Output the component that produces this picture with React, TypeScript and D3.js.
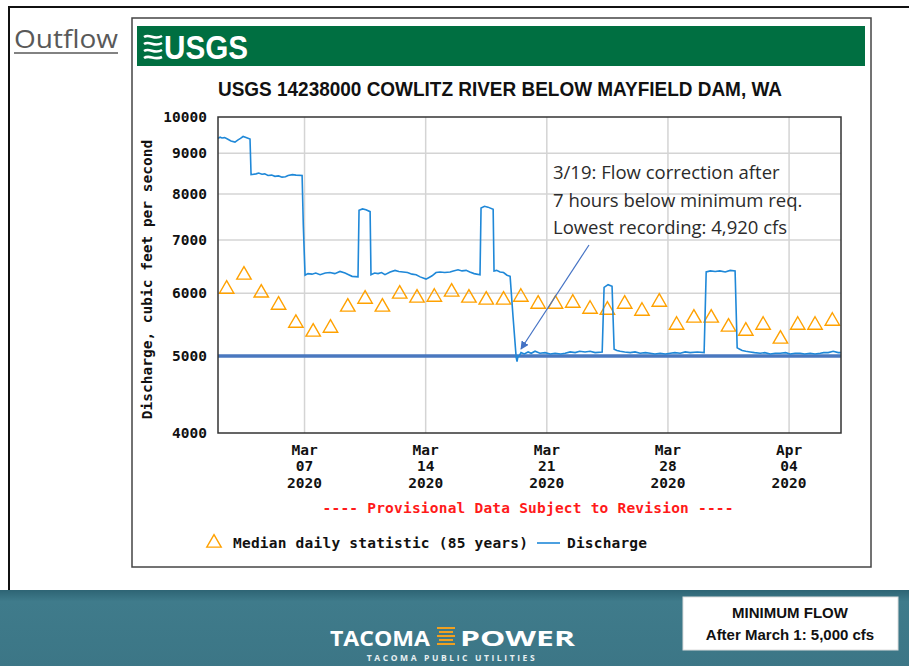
import React from "react";
import * as d3 from "d3";

// ---- data ----
const start = Date.UTC(2020, 2, 2);
const end = Date.UTC(2020, 3, 7);
const DAY = 86400000;

const yTicks = [4000, 5000, 6000, 7000, 8000, 9000, 10000];
const minimumFlow = 5000;

// median daily statistic, one per day from Mar 2
const medianValues = [
  6090, 6343, 6022, 5814, 5517, 5377, 5439, 5781, 5916, 5781, 6004, 5935,
  5950, 6039, 5935, 5900, 5900, 5950, 5831, 5831, 5848, 5746, 5730, 5831,
  5713, 5865, 5486, 5600, 5600, 5455, 5392, 5486, 5269, 5486, 5486, 5550,
];

// discharge: [days since Mar 2, cfs]
const discharge: [number, number][] = [
  [0, 9400], [0.12, 9430], [0.23, 9410], [0.38, 9420], [0.52, 9390], [0.75, 9330], [0.98, 9300],
  [1.16, 9360], [1.3, 9400], [1.45, 9450], [1.62, 9420], [1.85, 9380], [1.91, 8460],
  [2.2, 8480], [2.35, 8500], [2.54, 8470], [2.7, 8480], [2.89, 8440], [3.1, 8450], [3.29, 8420], [3.5, 8430], [3.7, 8400],
  [3.9, 8410], [4.05, 8440], [4.3, 8460], [4.51, 8450], [4.86, 8440], [4.93, 7300], [5.03, 6320],
  [5.2, 6350], [5.43, 6340], [5.65, 6360], [5.9, 6330], [6.2, 6360], [6.47, 6370], [6.75, 6350], [7.05, 6390], [7.34, 6360],
  [7.55, 6330], [7.75, 6300], [8.09, 6290], [8.15, 7630], [8.35, 7660], [8.55, 7640], [8.79, 7600],
  [8.84, 6330], [9.05, 6360], [9.25, 6350], [9.45, 6370], [9.65, 6330], [9.95, 6380], [10.23, 6410], [10.45, 6390], [10.69, 6380],
  [10.95, 6370], [11.21, 6340], [11.45, 6330], [11.68, 6290], [12.02, 6250], [12.2, 6280], [12.37, 6310], [12.6, 6370], [12.83, 6380],
  [13.1, 6370], [13.41, 6380], [13.6, 6400], [13.87, 6420], [14.1, 6400], [14.34, 6410], [14.55, 6380], [14.8, 6350], [15.14, 6330],
  [15.2, 7680], [15.4, 7720], [15.6, 7700], [15.9, 7650], [15.95, 6400], [16.1, 6410], [16.3, 6380], [16.5, 6370],
  [16.7, 6320], [16.88, 6300], [17.05, 5600], [17.23, 4980], [17.28, 4920], [17.33, 4990],
  [17.4, 5000], [17.51, 5050], [17.7, 5030], [17.92, 5060], [18.1, 5040], [18.32, 5070], [18.6, 5040], [18.9, 5050],
  [19.2, 5030], [19.48, 5040], [19.8, 5030], [20.06, 5040], [20.35, 5060], [20.64, 5050], [20.9, 5070], [21.21, 5060], [21.5, 5070], [21.79, 5050],
  [22.2, 5060], [22.31, 6100], [22.54, 6150], [22.77, 6120], [22.89, 5100], [23.05, 5080],
  [23.24, 5070], [23.5, 5060], [23.82, 5050], [24.1, 5060], [24.39, 5040], [24.7, 5050], [24.97, 5040], [25.25, 5030], [25.55, 5040],
  [25.85, 5030], [26.13, 5040], [26.4, 5050], [26.71, 5040], [27.0, 5060], [27.28, 5050], [27.7, 5060], [28.09, 5050], [28.21, 6380],
  [28.45, 6400], [28.73, 6390], [29.0, 6400], [29.31, 6380], [29.6, 6410], [29.88, 6400], [30.0, 5120], [30.15, 5100], [30.29, 5080],
  [30.5, 5070], [30.75, 5060], [31.0, 5050], [31.33, 5040], [31.6, 5050], [31.91, 5030], [32.2, 5040], [32.49, 5040], [32.8, 5050], [33.06, 5030],
  [33.35, 5040], [33.64, 5040], [33.9, 5030], [34.22, 5040], [34.5, 5030], [34.8, 5040], [35.0, 5050], [35.26, 5050], [35.55, 5070],
  [35.84, 5050], [36, 5050],
];

const annotation = [
  "3/19: Flow correction after",
  "7 hours below minimum req.",
  "Lowest recording: 4,920 cfs",
];

const mono = "'DejaVu Sans Mono', monospace";

export default function App() {
  const plot = { left: 218, top: 117, right: 841, bottom: 433 };

  const x = d3.scaleUtc().domain([start, end]).range([plot.left, plot.right]);
  const y = d3.scaleLog().domain([4000, 10000]).range([plot.bottom, plot.top]);

  const xTicks = x.ticks(d3.utcSaturday.every(1) as any);
  const fmtM = d3.utcFormat("%b");
  const fmtD = d3.utcFormat("%d");
  const fmtY = d3.utcFormat("%Y");

  const line = d3
    .line<[number, number]>()
    .x((d) => x(start + d[0] * DAY))
    .y((d) => y(d[1]));

  const tri = d3.symbol().type(d3.symbolTriangle).size(90);

  return (
    <svg
      width={909}
      height={666}
      style={{ position: "fixed", left: 0, top: 0, background: "#fff" }}
    >
      <defs>
        <linearGradient id="banner" x1="0" y1="0" x2="0" y2="1">
          <stop offset="0" stopColor="#2e6474" />
          <stop offset="0.15" stopColor="#3f7b8b" />
          <stop offset="1" stopColor="#3c7686" />
        </linearGradient>
        <marker id="arr" viewBox="0 0 10 10" refX="9" refY="5" markerWidth="7" markerHeight="7" orient="auto">
          <path d="M0,0 L10,5 L0,10 z" fill="#4472c4" />
        </marker>
      </defs>

      {/* slide frame */}
      <line x1={8} x2={909} y1={7} y2={7} stroke="#111" strokeWidth={2} />
      <line x1={9} x2={9} y1={7} y2={590} stroke="#111" strokeWidth={2} />

      <text x={14} y={48} fontFamily="'Open Sans', sans-serif" fontSize={26} fill="#595959" textLength={104} lengthAdjust="spacingAndGlyphs">
        Outflow
      </text>
      <line x1={14} x2={118} y1={53} y2={53} stroke="#595959" strokeWidth={1.5} />

      {/* USGS chart box */}
      <rect x={132} y={18} width={739} height={549} fill="#fff" stroke="#444" strokeWidth={1.5} />
      <rect x={137} y={26} width={728} height={40} fill="#006f41" />
      <g stroke="#fff" strokeWidth={2.6} fill="none">
        <path d="M144,37 C150,33 154,41 162,36" />
        <path d="M144,44 C150,40 154,48 162,43" />
        <path d="M144,51 C150,47 154,55 162,50" />
        <path d="M144,58 C150,54 154,61 162,57" />
      </g>
      <text x={164} y={59} fontFamily="'Liberation Sans Narrow', 'Liberation Sans', sans-serif" fontWeight="bold" fontSize={33} fill="#fff" textLength={84} lengthAdjust="spacingAndGlyphs">
        USGS
      </text>

      <text x={500} y={96} textAnchor="middle" fontFamily="'Liberation Sans Narrow', 'Liberation Sans', sans-serif" fontWeight="bold" fontSize={21} fill="#111" textLength={564} lengthAdjust="spacingAndGlyphs">
        USGS 14238000 COWLITZ RIVER BELOW MAYFIELD DAM, WA
      </text>

      {/* grid */}
      <g stroke="#d4d4d4" strokeWidth={1.5}>
        {xTicks.map((t) => (
          <line key={+t} x1={x(t)} x2={x(t)} y1={plot.top} y2={plot.bottom} />
        ))}
        {yTicks.slice(1, -1).map((v) => (
          <line key={v} x1={plot.left} x2={plot.right} y1={y(v)} y2={y(v)} />
        ))}
      </g>

      {/* minimum flow */}
      <line x1={plot.left} x2={plot.right} y1={y(minimumFlow)} y2={y(minimumFlow)} stroke="#4a78bf" strokeWidth={3.5} />

      {/* median triangles */}
      {medianValues.map((v, i) => (
        <path
          key={i}
          d={tri() as string}
          transform={`translate(${x(start + (i + 0.5) * DAY)},${y(v) + 1})`}
          fill="none"
          stroke="#ffa100"
          strokeWidth={1.4}
        />
      ))}

      {/* discharge */}
      <path d={line(discharge) as string} fill="none" stroke="#1f88d8" strokeWidth={1.6} />

      {/* plot border */}
      <rect x={plot.left} y={plot.top} width={plot.right - plot.left} height={plot.bottom - plot.top} fill="none" stroke="#333" strokeWidth={1.5} />

      {/* y axis */}
      <g fontFamily={mono} fontWeight="bold" fontSize={14.5} fill="#111" textAnchor="end">
        {yTicks.map((v) => (
          <text key={v} x={207} y={y(v) + 5}>
            {v}
          </text>
        ))}
      </g>
      <text
        transform={`translate(152,${(137 + 422) / 2}) rotate(-90)`}
        textAnchor="middle"
        fontFamily={mono}
        fontWeight="bold"
        fontSize={14.5}
        fill="#111"
      >
        Discharge, cubic feet per second
      </text>

      {/* x axis */}
      <g fontFamily={mono} fontWeight="bold" fontSize={14.5} fill="#111" textAnchor="middle">
        {xTicks.map((t) => (
          <g key={+t}>
            <text x={x(t)} y={455}>{fmtM(t)}</text>
            <text x={x(t)} y={471}>{fmtD(t)}</text>
            <text x={x(t)} y={488}>{fmtY(t)}</text>
          </g>
        ))}
      </g>

      <text x={528} y={513} textAnchor="middle" fontFamily={mono} fontWeight="bold" fontSize={14.5} fill="#ff1a1a" textLength={411}>
        ---- Provisional Data Subject to Revision ----
      </text>

      {/* legend */}
      <path d={tri() as string} transform="translate(214,543)" fill="none" stroke="#ffa100" strokeWidth={1.4} />
      <text x={233} y={548} fontFamily={mono} fontWeight="bold" fontSize={14.5} fill="#111" textLength={295}>
        Median daily statistic (85 years)
      </text>
      <line x1={537} x2={560} y1={543} y2={543} stroke="#1f88d8" strokeWidth={1.6} />
      <text x={567} y={548} fontFamily={mono} fontWeight="bold" fontSize={14.5} fill="#111" textLength={80}>
        Discharge
      </text>

      {/* annotation */}
      <line x1={589} y1={245} x2={521} y2={349} stroke="#4472c4" strokeWidth={1.2} markerEnd="url(#arr)" />
      <g fontFamily="'Open Sans', sans-serif" fontSize={18.5} fill="#2b2b2b">
        {annotation.map((s, i) => (
          <text key={i} x={553} y={179 + i * 27.5}>
            {s}
          </text>
        ))}
      </g>

      {/* footer banner */}
      <rect x={0} y={590} width={909} height={76} fill="url(#banner)" />
      <text x={330} y={646} fontFamily="'Open Sans', sans-serif" fontWeight="bold" fontSize={22} fill="#fff" textLength={100} lengthAdjust="spacingAndGlyphs">
        TACOMA
      </text>
      <g stroke="#f0a020" strokeWidth={2}>
        {[628, 632, 636, 640, 644].map((yy, i) => (
          <line key={yy} x1={437 + (i % 2) * 2} x2={455 - (i % 2) * 2} y1={yy} y2={yy} />
        ))}
      </g>
      <text x={460} y={646} fontFamily="'Open Sans', sans-serif" fontWeight="bold" fontSize={22} fill="#fff" textLength={115} lengthAdjust="spacingAndGlyphs">
        POWER
      </text>
      <text x={452} y={661} textAnchor="middle" fontFamily="'Open Sans', sans-serif" fontWeight="bold" fontSize={8.5} fill="#e8f0f2" letterSpacing={2.6}>
        TACOMA PUBLIC UTILITIES
      </text>

      <rect x={683} y={597} width={215} height={53} fill="#fff" stroke="#ddd" />
      <g fontFamily="'Liberation Sans Narrow', 'Liberation Sans', sans-serif" fontWeight="bold" fontSize={15} fill="#111" textAnchor="middle">
        <text x={790} y={618}>MINIMUM FLOW</text>
        <text x={790} y={640}>After March 1: 5,000 cfs</text>
      </g>
    </svg>
  );
}
